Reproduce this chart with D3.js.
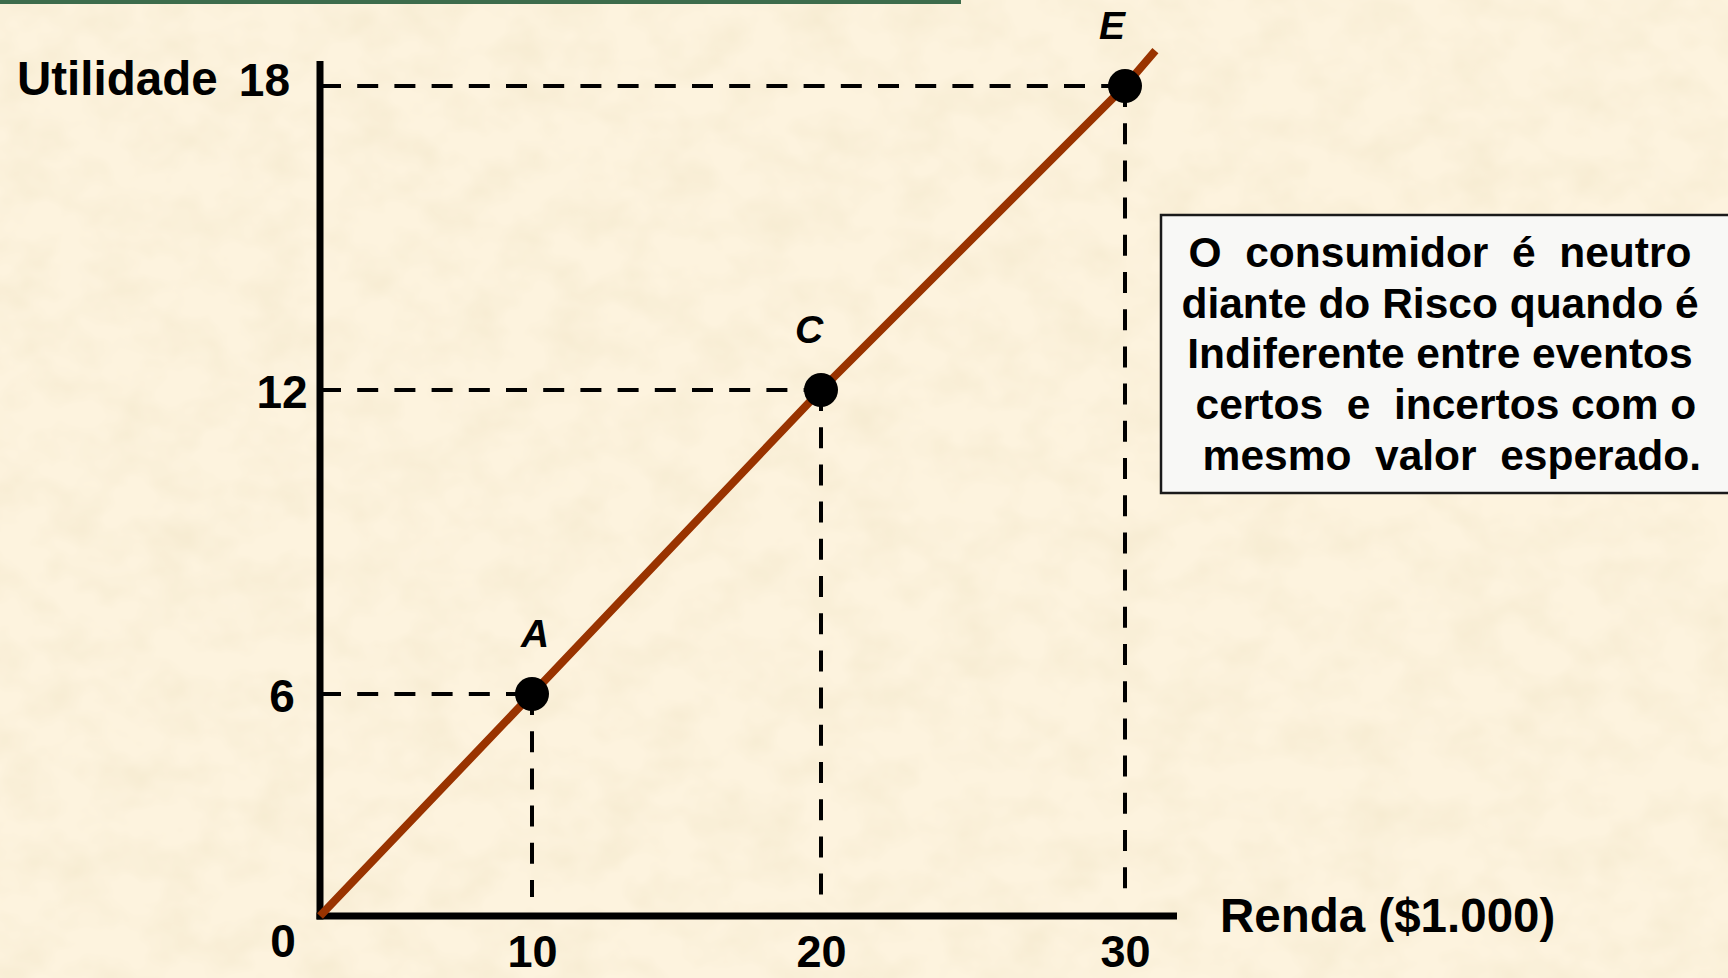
<!DOCTYPE html>
<html lang="pt">
<head>
<meta charset="utf-8">
<title>Neutro diante do risco</title>
<script src="https://cdn.jsdelivr.net/npm/d3@7/dist/d3.min.js"></script>
<style>
  html, body { margin: 0; padding: 0; background: #fcf0d9; overflow: hidden; }
  svg { display: block; }
  text { font-family: "Liberation Sans", Arial, Helvetica, sans-serif; font-weight: bold; fill: #000; }
</style>
</head>
<body>
<svg id="chart" width="1728" height="978"></svg>
<script>
// Utility curve of a risk-neutral consumer (income in $1.000, utility units)
const curveIncome  = [0, 10, 20, 30, 31];
const curveUtility = [0, 6, 12, 18, 18.7];

// Marked points on the curve
const pointNames   = ["A", "C", "E"];
const pointIncome  = [10, 20, 30];
const pointUtility = [6, 12, 18];

// Axis tick labels
const xTickValues = [10, 20, 30];
const yTickValues = [6, 12, 18];
const originLabel = "0";

const xTitle = "Renda ($1.000)";
const yTitle = "Utilidade";

const noteLines = [
  "O  consumidor  é  neutro",
  "diante do Risco quando é",
  "Indiferente entre eventos",
  " certos  e  incertos com o",
  "  mesmo  valor  esperado."
];

// ---- layout ----
const W = 1728, H = 978;
const svg = d3.select("#chart");

// schematic (piecewise) scales: the corner of the axes stands for 0
const x = d3.scaleLinear().domain([0, 10, 20, 30]).range([320, 532, 821, 1125]);
const y = d3.scaleLinear().domain([0, 6, 12, 18]).range([916, 694, 390, 86]);

// ---- parchment background ----
const defs = svg.append("defs");
const f = defs.append("filter").attr("id", "paper")
  .attr("x", 0).attr("y", 0).attr("width", W).attr("height", H)
  .attr("filterUnits", "userSpaceOnUse");
f.append("feTurbulence").attr("type", "fractalNoise")
  .attr("baseFrequency", "0.02 0.025").attr("numOctaves", 3).attr("seed", 7).attr("result", "n");
f.append("feColorMatrix").attr("in", "n").attr("type", "matrix")
  .attr("values", "0 0 0 0 0.91  0 0 0 0 0.82  0 0 0 0 0.62  1.4 0 0 0 -0.52");

svg.append("rect").attr("width", W).attr("height", H).attr("fill", "#fdf3de");
svg.append("rect").attr("width", W).attr("height", H).attr("fill", "#fff").attr("filter", "url(#paper)");

// green rule at the top of the slide
svg.append("rect").attr("x", 0).attr("y", 0).attr("width", 961).attr("height", 4).attr("fill", "#3d6c4c");

// ---- dashed guides ----
const guides = svg.append("g").attr("stroke", "#000").attr("stroke-width", 4)
  .attr("stroke-dasharray", "21 16.2").attr("fill", "none");
pointIncome.forEach((inc, i) => {
  guides.append("line")
    .attr("x1", x(0)).attr("x2", x(inc))
    .attr("y1", y(pointUtility[i])).attr("y2", y(pointUtility[i]));
  guides.append("line")
    .attr("x1", x(inc)).attr("x2", x(inc))
    .attr("y1", y(pointUtility[i])).attr("y2", y(0) - 19);
});

// ---- axes ----
svg.append("line").attr("x1", x(0)).attr("x2", x(0))
  .attr("y1", 61).attr("y2", y(0) + 3.5)
  .attr("stroke", "#000").attr("stroke-width", 7);
svg.append("line").attr("x1", x(0) - 3.5).attr("x2", 1177)
  .attr("y1", y(0)).attr("y2", y(0))
  .attr("stroke", "#000").attr("stroke-width", 7);

const xAxis = svg.append("g").attr("transform", `translate(0,${y(0)})`)
  .call(d3.axisBottom(x).tickValues(xTickValues).tickSize(0).tickPadding(19));
xAxis.select(".domain").remove();
xAxis.selectAll("text")
  .attr("font-family", "'Liberation Sans', Arial, sans-serif")
  .attr("font-weight", "bold").attr("font-size", 45).attr("fill", "#000");

const yAxis = svg.append("g").attr("transform", `translate(${x(0)},0)`)
  .call(d3.axisLeft(y).tickValues(yTickValues).tickSize(0));
yAxis.select(".domain").remove();
yAxis.selectAll("text")
  .attr("font-family", "'Liberation Sans', Arial, sans-serif")
  .attr("font-weight", "bold").attr("font-size", 46).attr("fill", "#000")
  .attr("text-anchor", "middle").attr("x", -38).attr("dy", "0.37em")
  .filter(d => d === d3.max(yTickValues))
  .attr("text-anchor", "end").attr("x", -30).attr("dy", "0.2em");

// y-axis title sits on the same line as the top tick
svg.append("text").attr("x", 17).attr("y", y(d3.max(yTickValues)) + 9)
  .attr("font-size", 47.5).text(yTitle);

svg.append("text").attr("x", 283).attr("y", 957)
  .attr("text-anchor", "middle").attr("font-size", 46).text(originLabel);

svg.append("text").attr("x", 1220).attr("y", 932)
  .attr("font-size", 47.5).text(xTitle);

// ---- utility line ----
const line = d3.line().x(d => x(d[0])).y(d => y(d[1]));
svg.append("path")
  .datum(curveIncome.map((v, i) => [v, curveUtility[i]]))
  .attr("d", line)
  .attr("fill", "none").attr("stroke", "#993300").attr("stroke-width", 8);

// ---- points and labels ----
const labelDx = { A: 3, C: -12, E: -13 };
pointNames.forEach((name, i) => {
  const px = x(pointIncome[i]), py = y(pointUtility[i]);
  svg.append("circle").attr("cx", px).attr("cy", py).attr("r", 17).attr("fill", "#000");
  svg.append("text").attr("x", px + labelDx[name]).attr("y", py - 47)
    .attr("text-anchor", "middle").attr("font-style", "italic")
    .attr("font-size", 39).text(name);
});

// ---- note box ----
svg.append("rect").attr("x", 1161).attr("y", 215).attr("width", 600).attr("height", 278)
  .attr("fill", "#f8f8f6").attr("stroke", "#1a1a1a").attr("stroke-width", 2.5);
const note = svg.append("text").attr("font-size", 42.5).attr("text-anchor", "middle")
  .attr("xml:space", "preserve").style("white-space", "pre");
noteLines.forEach((t, i) => {
  note.append("tspan").attr("x", 1440).attr("y", 267 + i * 50.7).text(t);
});
</script>
</body>
</html>
